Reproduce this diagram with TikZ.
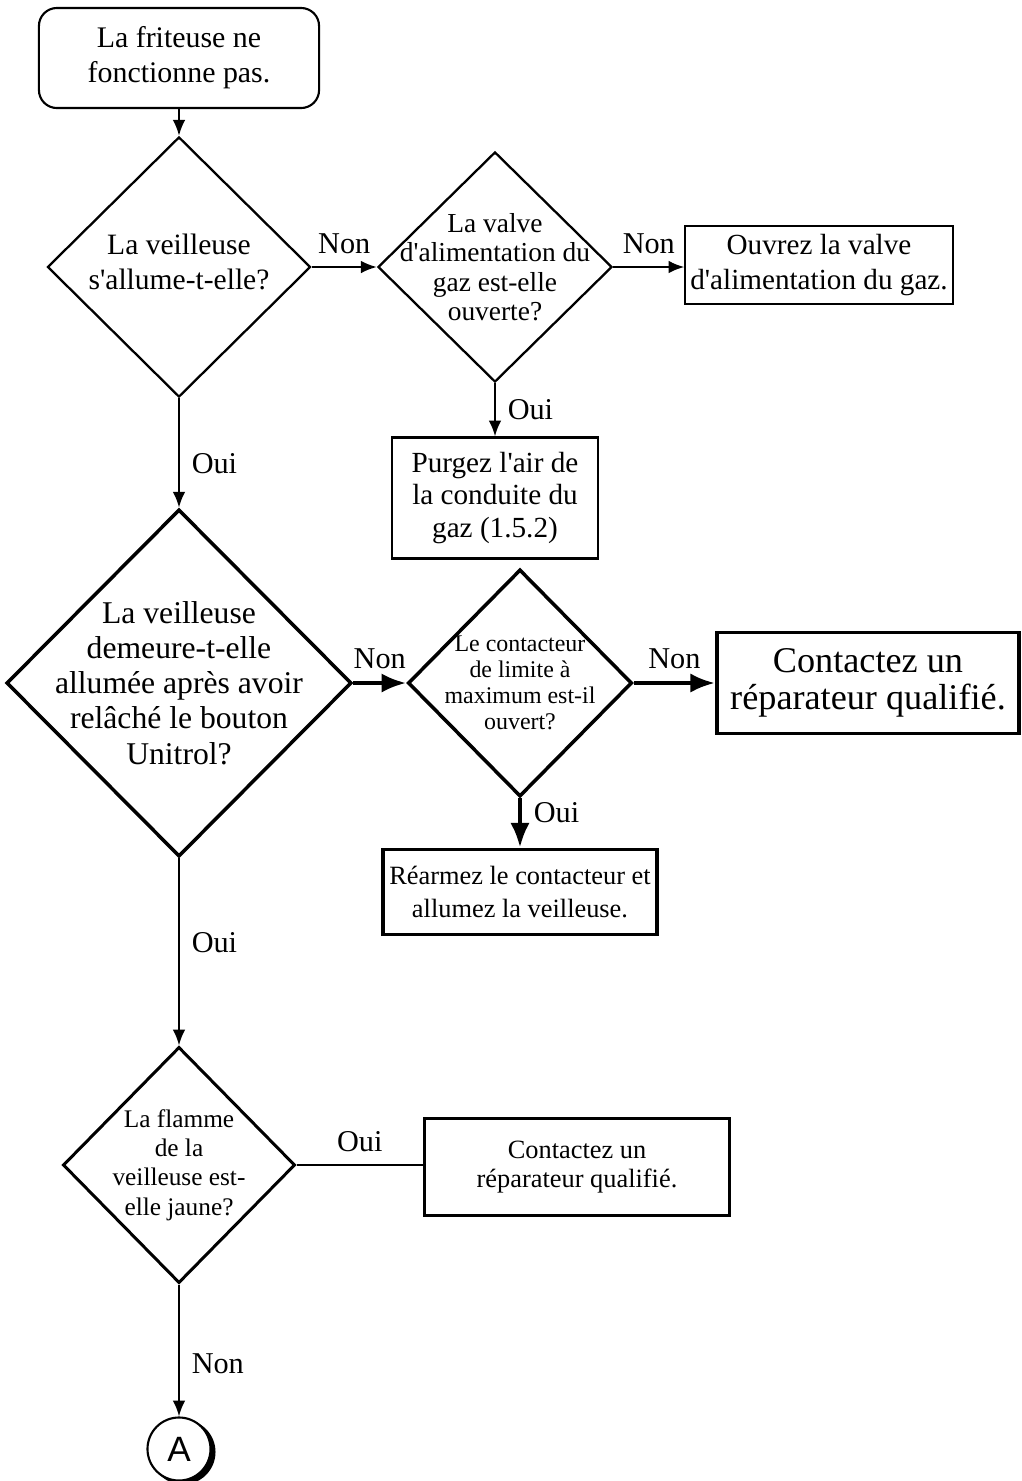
\documentclass[tikz,border=0pt]{standalone}
\usepackage{fontspec}
\newfontfamily\bodyfont{Liberation Serif}
\newfontfamily\letterfont{Liberation Sans}
\newcommand{\fs}[2]{\bodyfont\fontsize{#1}{#2}\selectfont}
\usetikzlibrary{shapes.geometric,arrows.meta}

\begin{document}
\begin{tikzpicture}[x=0.01cm,y=-0.01cm,
  question/.style={diamond,draw,line width=0.65pt,inner sep=0pt},
  qtext/.style={align=center,inner sep=0pt},
  action/.style={rectangle,draw,line width=0.6pt,align=center,inner sep=0pt},
  flow/.style={line width=0.6pt,-{Latex[length=4.5pt,width=3.6pt]}},
  bigflow/.style={line width=1.2pt,-{Latex[length=7pt,width=5.5pt]}},
  answer/.style={font=\fs{8.6}{10}}]
\useasboundingbox (0,0) rectangle (1022,1481);

\node[action,rounded corners=0.18cm,minimum width=2.8cm,minimum height=1cm,font=\fs{8.5}{10}] (start) at (179,58) {La friteuse ne\\fonctionne pas.};

\node[question,minimum width=2.63cm,minimum height=2.6cm] (lit) at (179,267) {};
\node[qtext,font=\fs{8.4}{10.2}] (lit-t) at (179,262) {La veilleuse\\s'allume-t-elle?};

\node[question,minimum width=2.34cm,minimum height=2.3cm] (valve) at (495,267) {};
\node[qtext,font=\fs{7.8}{8.4}] (valve-t) at (valve) {La valve\\d'alimentation du\\gaz est-elle\\ouverte?};

\node[action,minimum width=2.67cm,minimum height=0.78cm,font=\fs{8.3}{9.7}] (openvalve) at (819,265) {Ouvrez la valve\\d'alimentation du gaz.};

\node[action,minimum width=2.06cm,minimum height=1.21cm,font=\fs{8.3}{9.2}] (purge) at (495,498) {Purgez l'air de\\la conduite du\\gaz (1.5.2)};

\node[question,line width=1pt,minimum width=3.45cm,minimum height=3.47cm] (stays) at (179,683) {};
\node[qtext,font=\fs{9}{10}] (stays-t) at (stays) {La veilleuse\\demeure-t-elle\\allumée après avoir\\relâché le bouton\\Unitrol?};

\node[question,line width=1pt,minimum width=2.24cm,minimum height=2.27cm] (limit) at (520,683) {};
\node[qtext,font=\fs{6.8}{7.4}] (limit-t) at (limit) {Le contacteur\\de limite à\\maximum est-il\\ouvert?};

\node[action,line width=1.1pt,minimum width=3.02cm,minimum height=1.01cm,font=\fs{10.3}{10.6}] (contact1) at (868,683) {Contactez un\\réparateur qualifié.};

\node[action,line width=1.1pt,minimum width=2.73cm,minimum height=0.85cm,font=\fs{7.5}{9.6}] (reset) at (520,892) {Réarmez le contacteur et\\allumez la veilleuse.};

\node[question,line width=0.85pt,minimum width=2.32cm,minimum height=2.36cm] (yellow) at (179,1165) {};
\node[qtext,font=\fs{7.2}{8.3}] (yellow-t) at (yellow) {La flamme\\de la\\veilleuse est-\\elle jaune?};

\node[action,line width=0.85pt,minimum width=3.05cm,minimum height=0.96cm,font=\fs{7.5}{8}] (contact2) at (577,1167) {Contactez un\\réparateur qualifié.};

\fill (183,1452) circle (0.325cm);
\node[circle,draw,line width=0.6pt,fill=white,inner sep=0pt,minimum size=0.63cm,font=\letterfont\fontsize{10}{12}\selectfont] (conn) at (179,1449) {A};

\draw[flow] (start) -- (lit);
\draw[flow] (lit) -- node[answer,above]{Non} (valve);
\draw[flow] (valve.east) -- node[answer,above]{Non} (valve.east -| openvalve.west);
\draw[flow] (valve) -- node[answer,right]{Oui} (purge);
\draw[flow] (lit) -- node[answer,right,pos=0.6]{Oui} (stays);
\draw[bigflow] (stays) -- node[answer,above]{Non} (limit);
\draw[bigflow] (limit) -- node[answer,above]{Non} (contact1);
\draw[bigflow] (limit) -- node[answer,right,pos=0.3]{Oui} (reset);
\draw[flow] (stays) -- node[answer,right,pos=0.45]{Oui} (yellow);
\draw[line width=0.7pt] (yellow.east) -- node[answer,above]{Oui} (yellow.east -| contact2.west);
\draw[flow] (yellow) -- node[answer,right,pos=0.6]{Non} (conn);
\end{tikzpicture}
\end{document}
